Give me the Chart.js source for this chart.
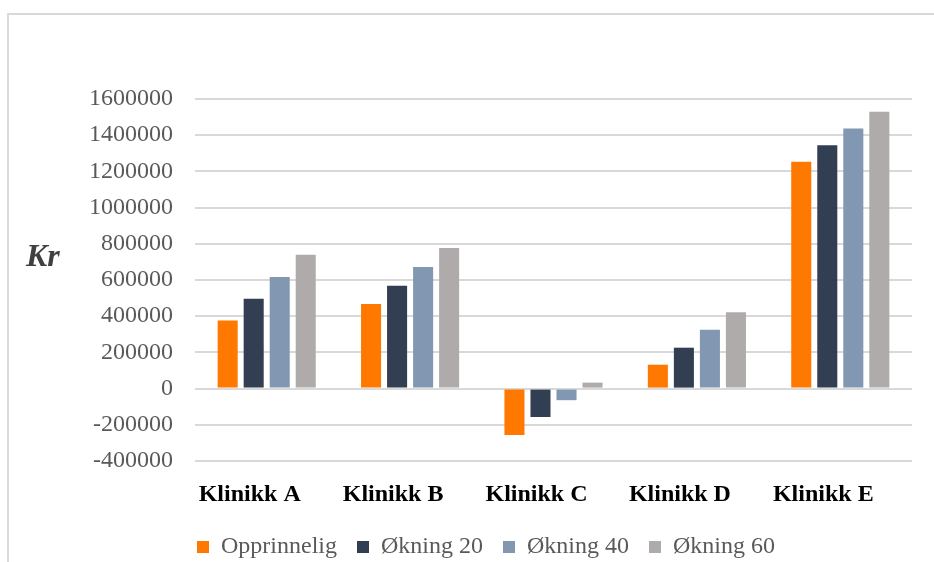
<!DOCTYPE html>
<html>
<head>
<meta charset="utf-8">
<script src="https://cdn.jsdelivr.net/npm/chart.js@4/dist/chart.umd.min.js"></script>
<style>
  html, body { margin: 0; padding: 0; background: #fff; overflow: hidden; }
  #frame { position: absolute; left: 7px; top: 13px; right: -4px; bottom: -4px; border-left: 2px solid #d9d9d9; border-top: 2px solid #d9d9d9; }
  #wrap { position: absolute; left: 0; top: 0; width: 934px; height: 569px; }
</style>
</head>
<body>
<div id="frame"></div>
<div id="wrap"><canvas id="klinikk-chart" width="934" height="569"></canvas></div>
<script>
var klinikker = ['Klinikk A', 'Klinikk B', 'Klinikk C', 'Klinikk D', 'Klinikk E'];

var opprinnelig = [376000, 468000, -256000, 132000, 1253000];
var okning20 = [496000, 568000, -157000, 226000, 1345000];
var okning40 = [617000, 672000, -64000, 325000, 1437000];
var okning60 = [739000, 777000, 33000, 422000, 1529000];

var serif = "'Liberation Serif', 'Times New Roman', serif";

// horizontal "Kr" label to the left of the value axis
var krLabel = {
   id: 'krLabel',
   afterDraw: function (chart) {
      var ctx = chart.ctx;
      ctx.save();
      ctx.font = 'italic bold 32px ' + serif;
      ctx.fillStyle = '#404040';
      ctx.textAlign = 'left';
      ctx.textBaseline = 'middle';
      ctx.fillText('Kr', 26, 258);
      ctx.restore();
   }
};

var ctx = document.getElementById('klinikk-chart');

var chart = new Chart(ctx, {
   type: 'bar',
   data: {
      labels: klinikker,
      datasets: [
         { label: 'Opprinnelig', data: opprinnelig, backgroundColor: '#FF7800' },
         { label: 'Økning 20', data: okning20, backgroundColor: '#323E52' },
         { label: 'Økning 40', data: okning40, backgroundColor: '#8297B1' },
         { label: 'Økning 60', data: okning60, backgroundColor: '#AFABAB' }
      ]
   },
   options: {
      responsive: false,
      animation: false,
      categoryPercentage: 0.726,
      barPercentage: 0.77,
      layout: {
         padding: { top: 99, right: 22, left: 60, bottom: 0 }
      },
      plugins: {
         tooltip: { enabled: false },
         legend: {
            position: 'bottom',
            labels: {
               font: { family: serif, size: 24 },
               color: '#595959',
               boxWidth: 12,
               boxHeight: 12,
               padding: 20
            }
         }
      },
      scales: {
         x: {
            grid: { display: false },
            border: { display: false },
            ticks: {
               font: { family: serif, size: 24, weight: 'bold' },
               color: '#000',
               padding: 11,
               labelOffset: -17
            },
            afterFit: function (scale) { scale.height = 54; }
         },
         y: {
            min: -400000,
            max: 1600000,
            grid: { color: '#d9d9d9', lineWidth: 2, drawTicks: false },
            border: { display: false },
            ticks: {
               stepSize: 200000,
               font: { family: serif, size: 24 },
               color: '#595959',
               padding: 22,
               callback: function (v) { return String(v); }
            },
            afterFit: function (scale) { scale.width = 135; }
         }
      }
   },
   plugins: [krLabel]
});
</script>
</body>
</html>
